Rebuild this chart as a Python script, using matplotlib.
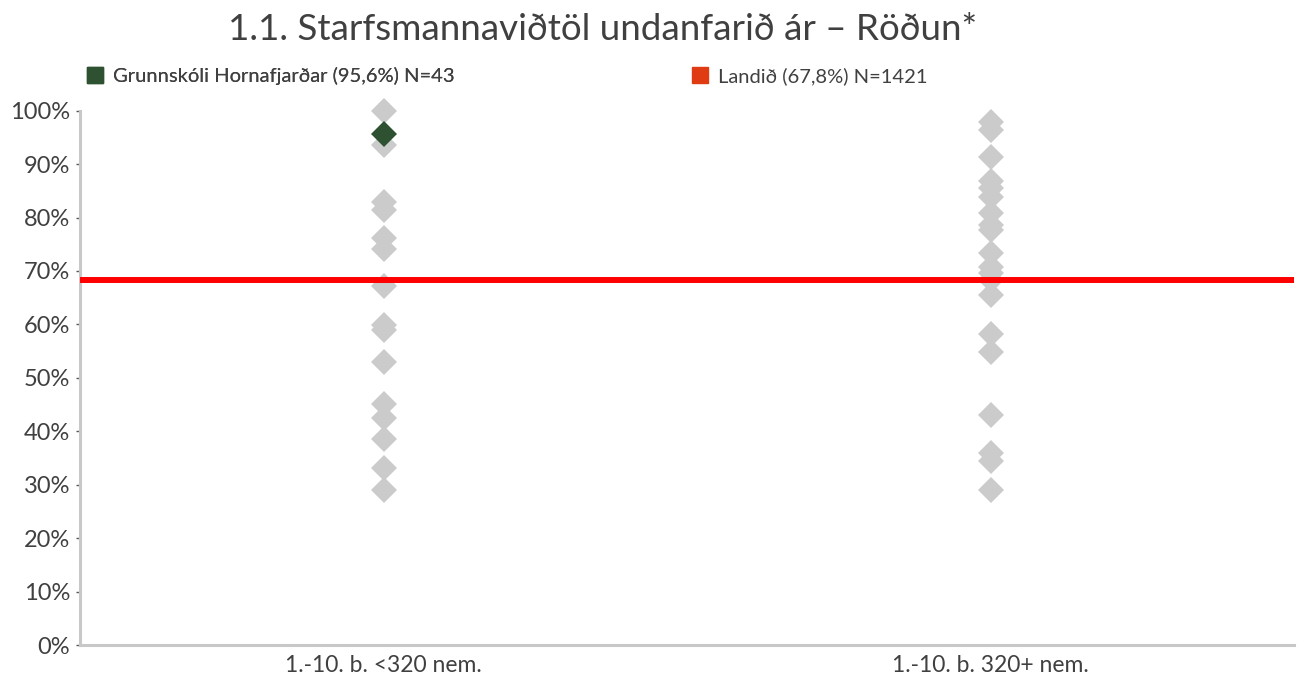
import matplotlib.pyplot as plt
from matplotlib.ticker import PercentFormatter
from matplotlib.patches import Patch

plt.rcParams['font.family'] = ['Lato', 'DejaVu Sans']

categories = ['1.-10. b. <320 nem.', '1.-10. b. 320+ nem.']

# other schools, by group (percent)
small_schools = [100.0, 93.6, 83.0, 81.5, 76.1, 74.1, 67.1, 59.9, 59.0,
                 53.0, 45.1, 42.4, 38.5, 33.1, 29.0]
large_schools = [97.9, 96.4, 91.4, 86.9, 85.5, 83.9, 80.9, 78.6, 77.7,
                 73.3, 70.8, 69.6, 68.3, 65.5, 58.3, 54.9, 43.0, 36.0,
                 34.5, 29.0]

school_value = 95.6
school_group = 0
national_value = 68.3

school_label = 'Grunnskóli Hornafjarðar (95,6%) N=43'
national_label = 'Landið (67,8%) N=1421'
title = '1.1. Starfsmannaviðtöl undanfarið ár – Röðun*'

gray = '#cbcbcb'
green = '#2e5231'
red = '#ff0000'
red_legend = '#e03c14'
text_col = '#404040'


def main():
    fig = plt.figure(figsize=(13.04, 6.75), dpi=100)
    ax = fig.add_axes([80 / 1304, 30 / 675, 1214 / 1304, 534.3 / 675])

    ax.plot([0] * len(small_schools), small_schools, 'D', color=gray,
            markersize=13, markeredgewidth=0, zorder=2, clip_on=False)
    ax.plot([1] * len(large_schools), large_schools, 'D', color=gray,
            markersize=13, markeredgewidth=0, zorder=2, clip_on=False)
    ax.axhline(national_value, color=red, linewidth=4.3, zorder=3)
    ax.plot([school_group], [school_value], 'D', color=green,
            markersize=13, markeredgewidth=0, zorder=4, clip_on=False)

    ax.set_xlim(-0.5, 1.5)
    ax.set_ylim(0, 100)
    ax.set_yticks(range(0, 101, 10))
    ax.yaxis.set_major_formatter(PercentFormatter(decimals=0))
    ax.set_xticks([0, 1])
    ax.set_xticklabels(categories)

    for s in ['top', 'right']:
        ax.spines[s].set_visible(False)
    for s in ['left', 'bottom']:
        ax.spines[s].set_color('#c8c8c8')
        ax.spines[s].set_linewidth(2.2)
    ax.tick_params(axis='y', length=3, width=1, color='#595959',
                   labelsize=17, labelcolor=text_col, pad=4)
    ax.tick_params(axis='x', length=0, labelsize=16.5, labelcolor=text_col, pad=7)

    fig.text(603 / 1304, 1 - 29 / 675, title, ha='center', va='center',
             fontsize=26.5, color=text_col)

    h1 = [Patch(color=green)]
    h2 = [Patch(color=red_legend)]
    leg1 = fig.legend(h1, [school_label], loc='center left',
                      bbox_to_anchor=(69 / 1304, 1 - 76 / 675), frameon=False,
                      fontsize=14.5, handlelength=0.8, handleheight=0.8,
                      handletextpad=0.5, labelcolor=text_col)
    fig.legend(h2, [national_label], loc='center left',
               bbox_to_anchor=(674 / 1304, 1 - 76 / 675), frameon=False,
               fontsize=14.5, handlelength=0.8, handleheight=0.8,
               handletextpad=0.5, labelcolor=text_col)
    fig.add_artist(leg1)

    fig.savefig('out.png', dpi=100)


if __name__ == '__main__':
    main()
